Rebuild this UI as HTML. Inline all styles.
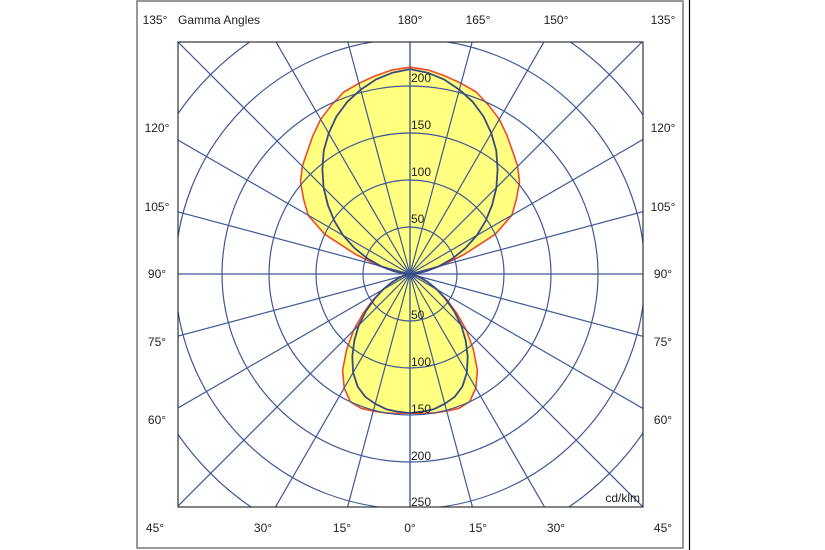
<!DOCTYPE html>
<html><head><meta charset="utf-8"><style>
html,body{margin:0;padding:0;background:#fff;width:825px;height:550px;overflow:hidden;}
svg{display:block;font-family:"Liberation Sans",sans-serif;overflow:hidden;}
</style></head><body>
<svg id="chart" width="825" height="550" viewBox="0 0 825 550">
<defs><clipPath id="sq"><rect x="178" y="42" width="465" height="465"/></clipPath></defs>
<rect x="137" y="1" width="546" height="547" fill="#fff" stroke="#777" stroke-width="1.5"/>
<line x1="689.5" y1="0" x2="689.5" y2="550" stroke="#000" stroke-width="1.2"/>
<g id="curves" clip-path="url(#sq)"></g>
<g id="grid" clip-path="url(#sq)"></g>
<rect x="178" y="42" width="465" height="465" fill="none" stroke="#333" stroke-width="1.2"/>
<g id="labels" font-size="12" fill="#222"></g>
</svg>
<script>
const ringValues=[50,100,150,200,250,300,350];
const ringLabels=["50","100","150","200","250"];
const spokeAngles=[0,15,30,45,60,75,90,105,120,135,150,165,180];
const gammaAngles=[0,5,10,15,20,25,30,35,40,45,50,55,60,65,70,75,80,85,90,95,100,105,110,115,120,125,130,135,140,145,150,155,160,165,170,175,180];
const planeC0=[148,149,150,151,152,150,140,125,105,85,65,48,33,22,13,7,3,1,0,4,15,35,62,100,125,138,152,162,170,180,190,198,206,210,214,218,220];
const planeC90=[148,147,146,143,139,132,121,107,92,77,61,46,33,22,13,7,3,1,0,7,18,32,48,65,82,98,114,130,145,160,173,185,195,203,210,215,218];
const angleLabelsTop=["135°","180°","165°","150°","135°"];
const angleLabelsSide=["120°","105°","90°","75°","60°"];
const angleLabelsBottom=["45°","30°","15°","0°","15°","30°","45°"];
const NS="http://www.w3.org/2000/svg";
const cx=410,cy=274,scale=0.94;
function rad(v){return v*scale;}
function pt(gamma,v,side){const a=gamma*Math.PI/180;return [cx+side*rad(v)*Math.sin(a),cy+rad(v)*Math.cos(a)];}
function mk(tag,attrs,parent){const e=document.createElementNS(NS,tag);for(const k in attrs)e.setAttribute(k,attrs[k]);parent.appendChild(e);return e;}
const grid=document.getElementById('grid'),curves=document.getElementById('curves'),labels=document.getElementById('labels');
const gc="#3f5896";
ringValues.forEach(v=>{const c=mk('circle',{cx:cx,cy:cy,r:rad(v),fill:'none',stroke:gc,'stroke-width':1.2},grid);

});
spokeAngles.forEach(g=>{[1,-1].forEach(s=>{const p=pt(g,400,s);const l=mk('line',{x1:cx,y1:cy,x2:p[0],y2:p[1],stroke:gc,'stroke-width':1.2},grid);

});});
function pathFor(vals){let pts=[];gammaAngles.forEach((g,i)=>pts.push(pt(g,vals[i],1)));for(let i=gammaAngles.length-1;i>=0;i--)pts.push(pt(gammaAngles[i],vals[i],-1));return 'M'+pts.map(p=>p[0].toFixed(1)+','+p[1].toFixed(1)).join('L')+'Z';}
const f=mk('path',{d:pathFor(planeC0),fill:'#ffff80',stroke:'#f04a2a','stroke-width':1.6,'stroke-linejoin':'round'},curves);


const b=mk('path',{d:pathFor(planeC90),fill:'none',stroke:'#3a4a80','stroke-width':1.8,'stroke-linejoin':'round'},grid);


function txt(x,y,s,anchor,name){const t=mk('text',{x:x,y:y,'text-anchor':anchor||'middle'},labels);t.textContent=s;

return t;}
ringLabels.forEach((s,i)=>{const v=ringValues[i];
if(v<=200)txt(411,cy-rad(v)-4,s,'start','ring-label-upper-'+s);
txt(411,cy+rad(v)-2+(v==250?-1:0),s,'start','ring-label-lower-'+s);});
const topX=[155,410,478,556,663];
angleLabelsTop.forEach((s,i)=>txt(topX[i],24,s,'middle','angle-label-top-'+i));
txt(178,24,"Gamma Angles",'start','gamma-angles-title');
const sideY=[132,211,278,346,424];
angleLabelsSide.forEach((s,i)=>{txt(157,sideY[i],s,'middle','angle-label-left-'+i);txt(663,sideY[i],s,'middle','angle-label-right-'+i);});
const botX=[155,263,342,410,478,556,663];
angleLabelsBottom.forEach((s,i)=>txt(botX[i],532,s,'middle','angle-label-bottom-'+i));
txt(640,502,"cd/klm",'end','unit-label');
</script>
</body></html>
